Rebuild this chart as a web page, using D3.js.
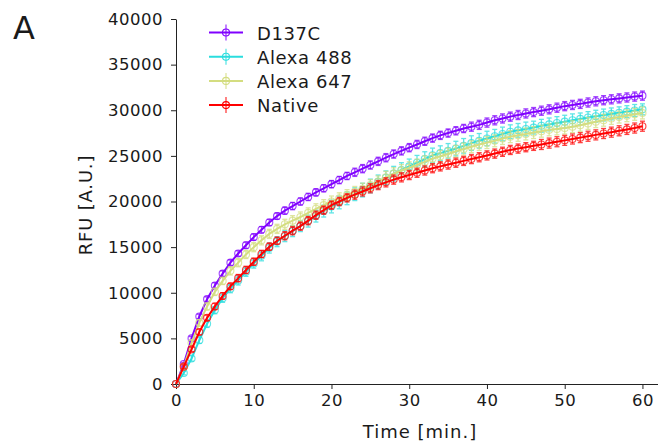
<!DOCTYPE html>
<html>
<head>
<meta charset="utf-8">
<script src="https://cdn.jsdelivr.net/npm/d3@7"></script>
<style>
  body { margin: 0; background: #fff; }
  text { font-family: "DejaVu Sans", sans-serif; fill: #1a1a1a; }
</style>
</head>
<body>
<script>
// temps en minutes (un point par minute)
const times = [0,1,2,3,4,5,6,7,8,9,10,11,12,13,14,15,16,17,18,19,20,
  21,22,23,24,25,26,27,28,29,30,31,32,33,34,35,36,37,38,39,40,
  41,42,43,44,45,46,47,48,49,50,51,52,53,54,55,56,57,58,59,60]

const seriesNames = ["D137C", "Alexa 488", "Alexa 647", "Native"]

// valeurs RFU
const d137c = [0,2200,5000,7400,9300,10800,12100,13300,14300,15200,
  16100,16900,17700,18400,19000,19500,20000,20500,21000,21450,
  21900,22350,22800,23200,23600,24000,24400,24800,25200,25550,
  25900,26250,26600,26950,27250,27500,27750,28000,28200,28400,
  28650,28900,29100,29300,29480,29650,29800,29950,30100,30280,
  30450,30580,30700,30850,30980,31100,31200,31300,31400,31500,
  31600]
const alexa488 = [0,1200,2800,4800,6600,8100,9400,10450,11350,12300,
  13200,14050,14900,15600,16200,16750,17300,17850,18400,18950,
  19450,19900,20350,20800,21250,21700,22150,22600,23050,23450,
  23850,24250,24650,25050,25300,25550,25800,26100,26400,26650,
  26900,27150,27400,27650,27800,27950,28100,28300,28450,28600,
  28750,28900,29050,29200,29350,29480,29600,29720,29850,29980,
  30100]
const alexa647 = [0,1900,4500,6700,8500,10100,11300,12400,13300,14200,
  15000,15750,16450,17000,17500,17900,18300,18750,19200,19600,
  20000,20350,20700,21050,21400,21800,22200,22650,23050,23400,
  23700,24000,24350,24700,24950,25200,25500,25750,26000,26250,
  26450,26650,26900,27100,27250,27400,27550,27700,27850,27950,
  28050,28200,28350,28550,28750,28900,29100,29250,29400,29550,
  29700]
const native = [0,1900,3800,5700,7250,8500,9650,10700,11600,12500,
  13400,14250,15050,15700,16250,16800,17300,17900,18500,19050,
  19600,20000,20400,20750,21100,21450,21800,22100,22400,22650,
  22900,23150,23400,23650,23850,24050,24250,24450,24650,24850,
  25050,25250,25450,25650,25800,25950,26100,26250,26400,26550,
  26700,26850,27000,27150,27300,27450,27600,27750,27900,28050,
  28250]

// barres d'erreur (+/-)
const errD137C = [0,150,200,250,250,300,300,300,300,350,
  350,350,350,350,400,400,400,400,400,400,
  400,400,400,450,450,450,450,450,450,450,
  450,450,450,450,450,450,450,450,500,500,
  500,500,500,500,500,500,500,500,500,500,
  500,500,500,500,500,500,500,500,500,500,
  500]
const err488 = [0,200,300,350,400,400,450,450,500,500,
  500,550,550,550,600,600,600,650,650,650,
  700,700,700,700,750,750,750,750,800,800,
  800,800,800,800,800,800,800,800,800,800,
  800,750,750,750,750,750,700,700,700,700,
  700,700,650,650,650,650,650,650,650,650,
  600]
const err647 = [0,200,300,350,400,400,400,450,450,450,
  500,500,500,500,550,550,550,550,550,600,
  600,600,600,600,600,600,600,650,650,650,
  650,650,650,650,650,650,650,650,650,650,
  650,650,650,650,650,650,650,650,650,650,
  650,650,650,650,650,650,650,650,650,650,
  650]
const errNative = [0,200,250,300,300,350,350,350,400,400,
  400,400,400,400,450,450,450,450,450,450,
  450,450,450,500,500,500,500,500,500,500,
  500,500,500,500,500,500,500,500,500,500,
  500,500,500,500,500,500,500,550,550,550,
  550,550,550,550,550,550,550,550,550,550,
  550]

const xTicks = [0, 10, 20, 30, 40, 50, 60]
const yTicks = [0, 5000, 10000, 15000, 20000, 25000, 30000, 35000, 40000]

//------------------------------------------------------------------------------

const colors = ["#8000ff", "#2addde", "#d4dd80", "#ff0000"]
const allValues = [d137c, alexa488, alexa647, native]
const allErrors = [errD137C, err488, err647, errNative]

const series = seriesNames.map((name, i) => ({
    name: name,
    color: colors[i],
    points: times.map((t, j) => ({ t: t, v: allValues[i][j], e: allErrors[i][j] }))
}))

const width = 658
const height = 447

const svg = d3.select("body")
    .append("svg")
    .attr("width", width)
    .attr("height", height)

const x = d3.scaleLinear().domain([0, 62]).range([176, 658])
const y = d3.scaleLinear().domain([0, 40000]).range([384, 19])

//------------------------------------------------------------------------------

// axes
const xAxis = svg.append("g")
    .attr("transform", "translate(0," + y(0) + ")")
    .call(d3.axisBottom(x).tickValues(xTicks).tickFormat(d3.format("d")).tickSize(5).tickPadding(5).tickSizeOuter(0))
xAxis.selectAll("text")
    .style("font-size", "16.5px")
    .style("letter-spacing", "0.5px")

const yAxis = svg.append("g")
    .attr("transform", "translate(" + x(0) + ",0)")
    .call(d3.axisLeft(y).tickValues(yTicks).tickFormat(d3.format("d")).tickSize(5).tickPadding(8).tickSizeOuter(0))
yAxis.selectAll("text")
    .style("font-size", "16.5px")
    .style("letter-spacing", "0.5px")

svg.selectAll(".domain, .tick line").attr("stroke", "#222").attr("stroke-width", 1)

// titres des axes
svg.append("text")
    .attr("text-anchor", "middle")
    .attr("x", 420)
    .attr("y", 438)
    .style("font-size", "18px")
    .style("letter-spacing", "1px")
    .text("Time [min.]")

svg.append("text")
    .attr("text-anchor", "middle")
    .attr("transform", "translate(92,205) rotate(-90)")
    .style("font-size", "18px")
    .style("letter-spacing", "0.8px")
    .text("RFU [A.U.]")

// lettre du panneau
svg.append("text")
    .attr("x", 13)
    .attr("y", 39)
    .style("font-size", "32px")
    .text("A")

//------------------------------------------------------------------------------

const line = d3.line()
    .x(d => x(d.t))
    .y(d => y(d.v))

const groups = svg.selectAll(".serie")
    .data(series)
    .join("g")
    .attr("class", "serie")

// barres d'erreur, courbe et marqueurs pour chaque série
groups.each(function (s) {
    const g = d3.select(this)
    const pts = s.points.filter(p => p.e > 0)
    const bars = g.append("g")
        .attr("stroke", s.color)
        .attr("stroke-width", 1.3)
        .attr("opacity", 0.75)
    bars.selectAll("line.v")
        .data(pts)
        .join("line")
        .attr("class", "v")
        .attr("x1", d => x(d.t)).attr("x2", d => x(d.t))
        .attr("y1", d => y(d.v - d.e)).attr("y2", d => y(d.v + d.e))
    bars.selectAll("line.top")
        .data(pts)
        .join("line")
        .attr("class", "top")
        .attr("x1", d => x(d.t) - 2.5).attr("x2", d => x(d.t) + 2.5)
        .attr("y1", d => y(d.v + d.e)).attr("y2", d => y(d.v + d.e))
    bars.selectAll("line.bot")
        .data(pts)
        .join("line")
        .attr("class", "bot")
        .attr("x1", d => x(d.t) - 2.5).attr("x2", d => x(d.t) + 2.5)
        .attr("y1", d => y(d.v - d.e)).attr("y2", d => y(d.v - d.e))

    g.append("path")
        .datum(s.points)
        .attr("fill", "none")
        .attr("stroke", s.color)
        .attr("stroke-width", 2)
        .attr("d", line)

    g.selectAll("circle")
        .data(s.points)
        .join("circle")
        .attr("cx", d => x(d.t))
        .attr("cy", d => y(d.v))
        .attr("r", 3.5)
        .attr("fill", "none")
        .attr("stroke", s.color)
        .attr("stroke-width", 1.1)
        .attr("opacity", 0.75)
})

//------------------------------------------------------------------------------

// légende
const legend = svg.append("g")
const rows = legend.selectAll("g")
    .data(series)
    .join("g")
    .attr("transform", (d, i) => "translate(0," + (32.5 + i * 24.2) + ")")

rows.append("line")
    .attr("x1", 209).attr("x2", 243)
    .attr("stroke", d => d.color)
    .attr("stroke-width", 2)
rows.append("line")
    .attr("x1", 226).attr("x2", 226)
    .attr("y1", -8).attr("y2", 8)
    .attr("stroke", d => d.color)
    .attr("stroke-width", 1.3)
    .attr("opacity", 0.75)
rows.append("circle")
    .attr("cx", 226)
    .attr("r", 3.5)
    .attr("fill", "none")
    .attr("stroke", d => d.color)
    .attr("stroke-width", 1.1)
rows.append("text")
    .attr("x", 257)
    .attr("y", 7)
    .style("font-size", "18px")
    .style("letter-spacing", "0.6px")
    .text(d => d.name)
</script>
</body>
</html>
